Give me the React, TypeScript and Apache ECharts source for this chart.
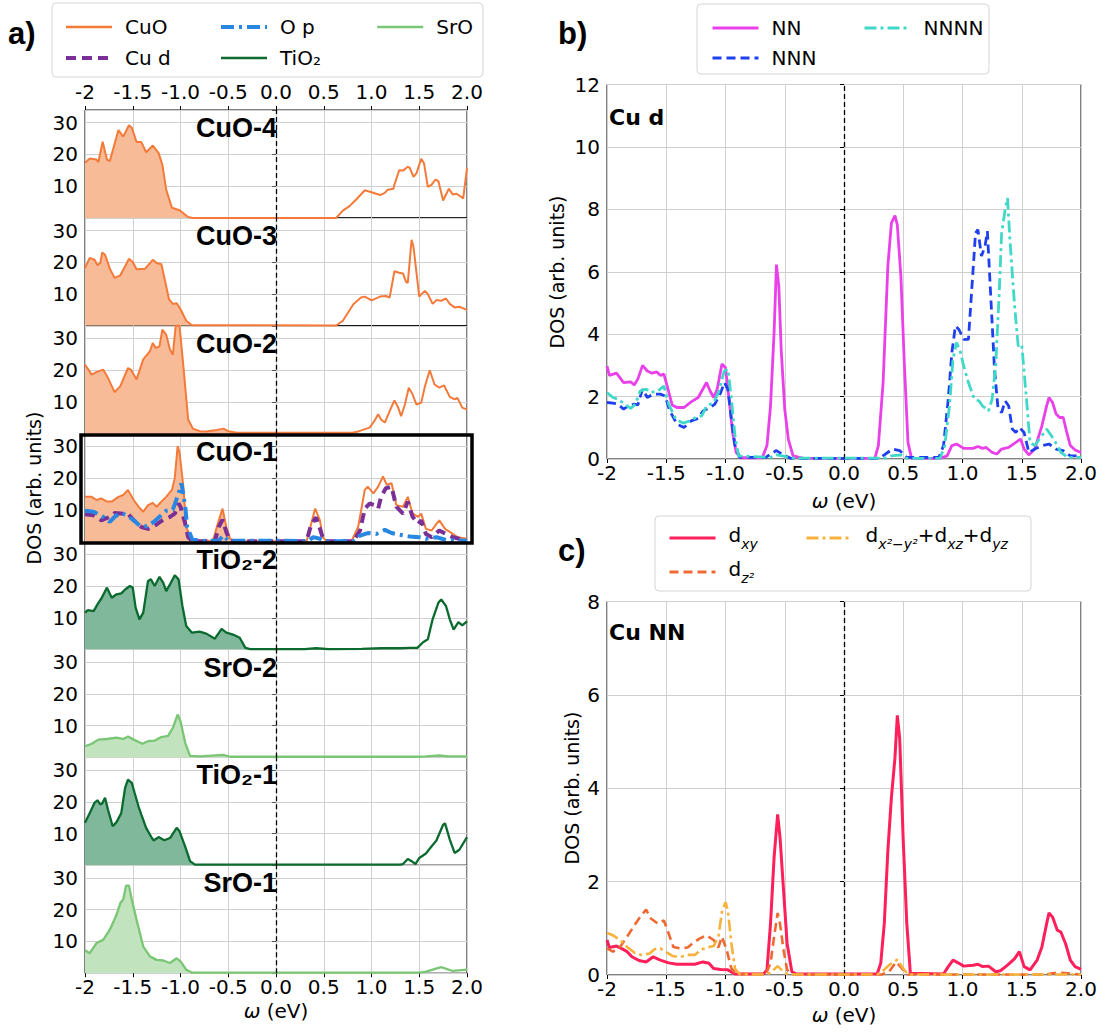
import React, { useEffect, useRef } from 'react';
import * as echarts from 'echarts';

type P = [number, number];

// ---------- panel a data (omega eV, DOS) ----------
const cuo4: P[] = [[-2,17.4],[-1.95,18.7],[-1.88,18.4],[-1.86,17.6],[-1.815,24],[-1.77,18.4],[-1.74,17.9],[-1.65,27.7],[-1.6,25.6],[-1.54,29.2],[-1.51,28.4],[-1.46,23.9],[-1.41,23.9],[-1.36,20.7],[-1.29,22.8],[-1.23,20.5],[-1.19,16.8],[-1.15,8.9],[-1.09,3.2],[-1.01,2.4],[-0.92,0.3],[-0.87,0],[0.63,0],[0.7,2.3],[0.77,3.7],[0.84,5.8],[0.93,8.7],[1.0,8.1],[1.09,7.2],[1.14,7.9],[1.17,8.9],[1.23,9.2],[1.24,10.5],[1.29,15],[1.33,14.9],[1.38,16.1],[1.4,15.8],[1.44,12.9],[1.47,14],[1.52,18.6],[1.55,17.2],[1.59,9.8],[1.63,10.5],[1.67,12.1],[1.7,11.6],[1.75,5.5],[1.81,9.2],[1.85,7.4],[1.89,7.6],[1.93,6.8],[1.96,6.1],[2.0,15.8]];
const cuo3: P[] = [[-2,18.2],[-1.95,21.4],[-1.9,20.8],[-1.87,19.1],[-1.84,19.8],[-1.82,23.1],[-1.79,22.4],[-1.74,18],[-1.69,15.1],[-1.63,15.9],[-1.58,18.75],[-1.54,21.1],[-1.5,20.1],[-1.46,17.8],[-1.37,18],[-1.35,18.75],[-1.29,20.8],[-1.25,19.8],[-1.2,19.4],[-1.16,13.9],[-1.12,8.3],[-1.08,6.9],[-1.04,7.1],[-1.0,5.2],[-0.94,1.6],[-0.88,0.2],[-0.8,0.2],[0.63,0.1],[0.7,1.6],[0.81,6.8],[0.89,8.9],[0.93,9.2],[1.0,8],[1.09,9.2],[1.15,9.4],[1.19,8.9],[1.24,17.2],[1.29,16.7],[1.33,16.5],[1.36,13.9],[1.38,13.5],[1.42,27.1],[1.44,24.8],[1.5,9.2],[1.52,9.9],[1.56,11],[1.59,10],[1.64,6.9],[1.68,8.1],[1.73,7.9],[1.78,8.6],[1.82,6.9],[1.87,5.8],[1.92,6],[2.0,5]];
const cuo2: P[] = [[-2,21.8],[-1.93,18.6],[-1.88,19.4],[-1.81,20.2],[-1.76,17.6],[-1.69,13.1],[-1.63,15],[-1.55,20.7],[-1.52,20.2],[-1.46,17.1],[-1.39,23.4],[-1.32,26],[-1.29,28.6],[-1.26,27],[-1.22,27.5],[-1.19,32.8],[-1.15,31.2],[-1.11,26.5],[-1.08,24.9],[-1.05,34],[-1.01,34],[-0.97,21.3],[-0.92,4.5],[-0.87,1.6],[-0.8,0.8],[-0.73,0.7],[-0.62,1.2],[-0.55,1.6],[-0.5,0.8],[-0.41,0.3],[0.8,0.3],[0.87,0.8],[0.98,1.9],[1.03,4],[1.07,6.1],[1.1,4.5],[1.14,3.5],[1.19,7.1],[1.24,10.5],[1.28,8.2],[1.31,5.5],[1.35,9.2],[1.39,14.5],[1.43,12.4],[1.47,9.2],[1.52,9.7],[1.56,15],[1.61,20],[1.66,15.5],[1.71,14.5],[1.76,15.2],[1.82,11.6],[1.87,10.8],[1.9,11.3],[1.95,8.2],[2.0,7.6]];
const cuo1: P[] = [[-2,14.1],[-1.93,14.1],[-1.88,13.1],[-1.83,13.6],[-1.77,12.6],[-1.72,12.6],[-1.65,14.1],[-1.6,14.7],[-1.55,16.3],[-1.49,13.1],[-1.44,11],[-1.39,9.4],[-1.34,11.5],[-1.29,12.2],[-1.25,11],[-1.2,12.6],[-1.15,14.1],[-1.09,16.3],[-1.06,20],[-1.03,30.1],[-1.01,28],[-0.97,17.3],[-0.94,4.6],[-0.88,0.3],[-0.66,0.3],[-0.61,5.6],[-0.56,10.4],[-0.52,4.6],[-0.48,0.9],[-0.44,0.1],[0.32,0.1],[0.36,4.6],[0.41,10.4],[0.46,6.7],[0.49,1.4],[0.53,0.1],[0.79,0.1],[0.86,4.6],[0.93,16.3],[0.96,17.3],[1.02,15.2],[1.07,17.3],[1.12,20.5],[1.16,17.9],[1.21,18.4],[1.26,11.5],[1.33,11],[1.38,14.1],[1.43,8.8],[1.49,7.8],[1.52,8.8],[1.57,4],[1.63,3.5],[1.68,5.6],[1.71,6.7],[1.77,4],[1.84,2.7],[1.9,1.4],[2.0,0.9]];
const cud1: P[] = [[-2,8.6],[-1.91,8.3],[-1.83,6.7],[-1.74,7.8],[-1.69,9],[-1.6,8.8],[-1.55,8.8],[-1.49,6.7],[-1.41,4.6],[-1.34,4],[-1.25,5.4],[-1.18,6.9],[-1.11,7.8],[-1.06,8.8],[-1.02,12],[-1.0,11],[-0.95,5.6],[-0.92,1.4],[-0.87,0.1],[-0.64,0.1],[-0.6,4.6],[-0.56,6.9],[-0.52,3],[-0.48,0.3],[-0.44,0.1],[0.32,0.1],[0.37,5.6],[0.42,7.6],[0.46,4],[0.5,0.3],[0.55,0.1],[0.81,0.1],[0.88,3.5],[0.93,10.4],[0.98,12],[1.03,11.5],[1.07,10.4],[1.1,14.1],[1.15,16.8],[1.21,17.3],[1.26,11],[1.33,8.8],[1.38,12.6],[1.43,7.8],[1.49,5.6],[1.52,6.7],[1.57,2.4],[1.63,1.4],[1.71,3.5],[1.78,2.4],[1.85,1.4],[2.0,0.3]];
const op1: P[] = [[-2,9.7],[-1.91,9.4],[-1.81,7.8],[-1.74,6.2],[-1.69,7.8],[-1.63,9],[-1.56,8.3],[-1.49,6.7],[-1.42,4.8],[-1.35,4.8],[-1.28,6.2],[-1.22,7.8],[-1.15,9.7],[-1.08,10.1],[-1.02,15.2],[-0.99,18.4],[-0.95,11],[-0.93,4.6],[-0.88,0.9],[-0.8,0.2],[-0.6,0.3],[-0.55,1.9],[-0.5,0.3],[0.34,0.2],[0.39,1.4],[0.46,0.9],[0.51,0.1],[0.81,0.1],[0.88,1.9],[0.96,2.7],[1.05,2.4],[1.14,3.7],[1.21,2.7],[1.29,2.2],[1.4,1.6],[1.5,1.4],[1.57,0.9],[1.68,1.4],[1.78,0.5],[2.0,0.3]];
const tio2b: P[] = [[-2,11.6],[-1.97,12.4],[-1.91,12.1],[-1.86,14.7],[-1.83,16],[-1.77,19.5],[-1.72,16.3],[-1.67,17.4],[-1.62,17.7],[-1.58,18.9],[-1.53,20],[-1.5,19.5],[-1.47,13.2],[-1.43,9.5],[-1.39,11.6],[-1.34,21.6],[-1.31,22.1],[-1.27,20],[-1.22,22.9],[-1.18,21],[-1.15,18.4],[-1.11,20.5],[-1.06,23.4],[-1.02,22.1],[-0.98,13.7],[-0.94,7.4],[-0.88,5.3],[-0.8,5.6],[-0.73,5],[-0.64,3.4],[-0.57,6.5],[-0.52,5.3],[-0.45,4.7],[-0.38,3.7],[-0.32,0.5],[-0.27,0.1],[0.3,0.1],[0.42,0.4],[0.55,0.1],[0.9,0.2],[1.1,0.4],[1.3,0.4],[1.4,0.5],[1.48,0.5],[1.54,2.3],[1.59,3.2],[1.64,9.5],[1.7,14.7],[1.73,15.8],[1.78,13.7],[1.82,9.5],[1.86,6.3],[1.91,8.6],[1.95,7.6],[2.0,8.9]];
const sro2: P[] = [[-2,3.5],[-1.93,4.3],[-1.86,5.6],[-1.77,5.8],[-1.67,6.2],[-1.6,5.8],[-1.55,6.6],[-1.49,5.6],[-1.4,4.3],[-1.34,5.1],[-1.27,5.3],[-1.2,6.4],[-1.13,6.8],[-1.08,9.3],[-1.03,13.5],[-1.0,11.4],[-0.95,4.5],[-0.9,0.5],[-0.8,0.3],[-0.55,0.8],[-0.48,0.2],[1.5,0.2],[1.57,0.3],[1.71,0.6],[1.8,0.3],[2.0,0.3]];
const tio2a: P[] = [[-2,13.4],[-1.95,16.5],[-1.9,19.7],[-1.87,20.5],[-1.84,19.2],[-1.82,19.5],[-1.79,21.3],[-1.76,17.6],[-1.71,12.3],[-1.67,13.6],[-1.62,16.5],[-1.58,24.4],[-1.55,27],[-1.51,26],[-1.48,22.8],[-1.44,18.6],[-1.41,16],[-1.36,11.8],[-1.3,8.6],[-1.28,7.8],[-1.23,8.9],[-1.17,7.9],[-1.11,8.6],[-1.04,11.8],[-1.01,10.7],[-0.95,5.8],[-0.9,1.3],[-0.85,0.2],[1.3,0.2],[1.33,0.4],[1.38,2],[1.42,1.3],[1.46,0.4],[1.5,2.3],[1.57,3.7],[1.63,6],[1.68,7.8],[1.75,12.8],[1.77,13.2],[1.82,8.1],[1.87,3.9],[1.92,4.9],[2.0,8.9]];
const sro1: P[] = [[-2,7.2],[-1.95,6.3],[-1.88,9.5],[-1.81,10.5],[-1.74,13.7],[-1.67,18.4],[-1.63,22.1],[-1.6,23.2],[-1.57,27.6],[-1.54,27.6],[-1.51,23.2],[-1.46,16.8],[-1.39,8.4],[-1.32,5.3],[-1.25,4.2],[-1.18,4],[-1.11,3.2],[-1.04,4.7],[-1.0,3.7],[-0.94,1.1],[-0.88,0.2],[1.5,0.2],[1.57,0.5],[1.73,1.9],[1.85,0.7],[2.0,1.1]];

// ---------- panel b data ----------
const nnB: P[] = [[-2,2.98],[-1.98,2.68],[-1.92,2.75],[-1.86,2.45],[-1.8,2.47],[-1.77,2.37],[-1.74,2.56],[-1.7,3.0],[-1.66,2.82],[-1.62,2.75],[-1.58,2.79],[-1.55,2.68],[-1.52,2.72],[-1.5,2.45],[-1.45,1.73],[-1.41,1.65],[-1.35,1.65],[-1.29,1.83],[-1.23,1.97],[-1.2,2.18],[-1.16,2.45],[-1.13,2.18],[-1.1,1.97],[-1.07,2.24],[-1.03,3.04],[-1.0,2.93],[-0.97,1.92],[-0.94,0.85],[-0.91,0.21],[-0.87,0.04],[-0.69,0.04],[-0.65,0.43],[-0.62,1.7],[-0.59,4.05],[-0.57,6.23],[-0.55,5.54],[-0.53,3.51],[-0.5,1.6],[-0.47,0.64],[-0.43,0.1],[-0.34,0.02],[0.26,0.02],[0.29,0.43],[0.33,2.45],[0.37,6.18],[0.4,7.56],[0.43,7.8],[0.45,7.5],[0.48,5.86],[0.51,2.98],[0.54,0.53],[0.57,0.02],[0.81,0.02],[0.87,0.1],[0.91,0.43],[0.95,0.48],[1.01,0.34],[1.09,0.34],[1.13,0.4],[1.17,0.34],[1.2,0.37],[1.25,0.21],[1.29,0.16],[1.33,0.32],[1.39,0.37],[1.45,0.53],[1.49,0.64],[1.52,0.32],[1.56,0.13],[1.61,0.32],[1.67,1.06],[1.71,1.7],[1.73,1.97],[1.76,1.81],[1.79,1.44],[1.82,1.33],[1.85,1.33],[1.88,0.85],[1.91,0.43],[1.95,0.29],[2.0,0.21]];
const nnnB: P[] = [[-2,1.81],[-1.95,1.79],[-1.91,1.76],[-1.86,1.6],[-1.82,1.7],[-1.77,1.76],[-1.74,1.73],[-1.7,2.24],[-1.66,1.97],[-1.61,2.08],[-1.55,2.08],[-1.51,2.02],[-1.47,1.54],[-1.41,1.12],[-1.35,1.01],[-1.29,1.22],[-1.23,1.3],[-1.19,1.54],[-1.13,1.65],[-1.09,1.76],[-1.04,2.13],[-1.01,2.45],[-0.98,2.24],[-0.95,1.28],[-0.92,0.43],[-0.88,0.05],[-0.66,0.05],[-0.62,0.16],[-0.57,0.27],[-0.51,0.13],[-0.45,0.02],[0.3,0.02],[0.35,0.16],[0.41,0.32],[0.47,0.27],[0.53,0.05],[0.8,0.05],[0.84,0.43],[0.88,1.92],[0.91,3.41],[0.94,4.26],[0.97,4.15],[1.01,3.83],[1.05,3.83],[1.08,5.54],[1.11,7.24],[1.13,7.35],[1.16,6.5],[1.19,6.82],[1.21,7.3],[1.24,5.1],[1.27,2.88],[1.3,1.6],[1.33,1.49],[1.36,1.86],[1.39,1.7],[1.42,0.96],[1.45,0.85],[1.48,1.01],[1.52,0.85],[1.56,0.21],[1.61,0.32],[1.67,0.43],[1.73,0.48],[1.79,0.32],[1.85,0.27],[1.91,0.1],[2.0,0.1]];
const nnnnB: P[] = [[-2,2.13],[-1.95,1.97],[-1.91,1.92],[-1.85,1.76],[-1.8,1.62],[-1.76,1.76],[-1.72,2.18],[-1.67,2.24],[-1.63,2.13],[-1.57,2.18],[-1.52,2.34],[-1.48,1.76],[-1.42,1.28],[-1.36,1.15],[-1.3,1.22],[-1.25,1.33],[-1.2,1.38],[-1.16,1.7],[-1.1,1.81],[-1.06,2.13],[-1.01,2.82],[-0.98,2.88],[-0.95,1.92],[-0.92,0.75],[-0.89,0.1],[-0.62,0.05],[-0.57,0.13],[-0.51,0.09],[-0.45,0.03],[0.35,0.03],[0.4,0.1],[0.48,0.13],[0.53,0.02],[0.81,0.02],[0.85,0.43],[0.89,1.7],[0.92,3.2],[0.95,3.73],[0.98,3.46],[1.01,2.98],[1.05,2.45],[1.1,1.92],[1.14,1.86],[1.17,1.7],[1.22,1.54],[1.25,1.92],[1.28,2.98],[1.31,5.32],[1.33,7.24],[1.36,7.99],[1.38,8.36],[1.4,7.03],[1.44,4.9],[1.47,3.62],[1.5,3.67],[1.54,1.92],[1.57,0.53],[1.61,0.43],[1.65,0.64],[1.71,0.96],[1.77,0.64],[1.83,0.21],[1.89,0.05],[2.0,0.05]];

// ---------- panel c data ----------
const dxyC: P[] = [[-2,0.75],[-1.98,0.59],[-1.92,0.62],[-1.88,0.57],[-1.83,0.5],[-1.79,0.39],[-1.73,0.31],[-1.67,0.28],[-1.61,0.39],[-1.55,0.32],[-1.48,0.26],[-1.41,0.23],[-1.33,0.23],[-1.26,0.23],[-1.19,0.28],[-1.14,0.25],[-1.1,0.14],[-1.04,0.12],[-0.98,0.11],[-0.92,0.02],[-0.68,0.02],[-0.65,0.11],[-0.62,1.1],[-0.59,2.52],[-0.56,3.44],[-0.54,2.95],[-0.51,1.81],[-0.48,0.67],[-0.44,0.07],[-0.4,0.02],[0.28,0.02],[0.31,0.25],[0.34,1.1],[0.37,2.66],[0.4,3.8],[0.43,4.65],[0.45,5.56],[0.47,5.07],[0.5,2.87],[0.53,1.1],[0.56,0.04],[0.84,0.02],[0.88,0.18],[0.92,0.32],[0.97,0.25],[1.01,0.19],[1.09,0.21],[1.13,0.23],[1.17,0.18],[1.22,0.19],[1.28,0.07],[1.32,0.09],[1.38,0.21],[1.44,0.35],[1.48,0.5],[1.52,0.18],[1.57,0.11],[1.63,0.32],[1.67,0.6],[1.71,1.1],[1.73,1.33],[1.76,1.24],[1.8,0.96],[1.83,0.92],[1.87,0.67],[1.91,0.32],[1.95,0.18],[2.0,0.12]];
const dz2C: P[] = [[-2,0.57],[-1.95,0.5],[-1.89,0.6],[-1.83,0.82],[-1.77,1.06],[-1.71,1.28],[-1.67,1.4],[-1.63,1.21],[-1.57,1.1],[-1.52,1.17],[-1.48,0.89],[-1.44,0.6],[-1.38,0.57],[-1.32,0.59],[-1.26,0.71],[-1.22,0.78],[-1.16,0.85],[-1.1,0.75],[-1.06,0.59],[-1.03,0.82],[-0.99,0.53],[-0.95,0.14],[-0.91,0.02],[-0.66,0.02],[-0.62,0.25],[-0.59,0.82],[-0.56,1.33],[-0.54,1.1],[-0.51,0.53],[-0.48,0.11],[-0.44,0.01],[0.32,0.01],[0.38,0.07],[0.44,0.28],[0.5,0.11],[0.54,0.01],[1.7,0.01],[1.77,0.04],[1.83,0.05],[2.0,0.01]];
const dx2C: P[] = [[-2,0.9],[-1.95,0.85],[-1.89,0.75],[-1.83,0.6],[-1.77,0.48],[-1.71,0.43],[-1.64,0.46],[-1.6,0.55],[-1.55,0.57],[-1.51,0.5],[-1.44,0.4],[-1.38,0.39],[-1.32,0.43],[-1.26,0.43],[-1.2,0.55],[-1.14,0.6],[-1.1,0.62],[-1.06,0.82],[-1.03,1.35],[-1.0,1.56],[-0.98,1.38],[-0.95,0.67],[-0.92,0.14],[-0.88,0.01],[-0.66,0.01],[-0.62,0.05],[-0.56,0.19],[-0.51,0.07],[-0.47,0.01],[0.28,0.01],[0.32,0.07],[0.38,0.21],[0.45,0.33],[0.5,0.14],[0.54,0.01],[2.0,0.01]];

const rowLabels = ['CuO-4', 'CuO-3', 'CuO-2', 'CuO-1', 'TiO₂-2', 'SrO-2', 'TiO₂-1', 'SrO-1'];
const yTicksA = [10, 20, 30];

const C = {
  cuo: '#f47a3a', cuoFill: '#f8bb98',
  cud: '#7a3096', op: '#2787e3',
  tio: '#0b6a2e', tioFill: '#7fb89b',
  sro: '#79c675', sroFill: '#c1e3bd',
  nn: '#e940e9', nnn: '#1f3ff0', nnnn: '#40d8c8',
  dxy: '#ff1f5a', dz2: '#ef6a32', dx2: '#f7b23b',
};

const FONT = 'DejaVu Sans';
const ROW_TOP = 110;
const ROW_H = 107.9;

const xFmt = (v: number) => (Math.abs(v + 2) < 1e-9 ? '-2' : v.toFixed(1));

function buildOption() {
  const grids: any[] = [];
  const xAxes: any[] = [];
  const yAxes: any[] = [];
  const series: any[] = [];

  const zeroLine = {
    silent: true,
    symbol: 'none',
    label: { show: false },
    lineStyle: { color: '#000', width: 1.3, type: [5, 3] },
    data: [{ xAxis: 0 }],
  };

  const xAxisBase = (gi: number, showLabel: boolean) => ({
    type: 'value', gridIndex: gi, min: -2, max: 2, interval: 0.5,
    axisLine: { show: false },
    axisTick: { show: showLabel, length: 4, lineStyle: { color: '#000' } },
    axisLabel: { show: showLabel, formatter: xFmt, fontSize: 20, fontFamily: FONT, color: '#000', margin: 4, showMinLabel: true, showMaxLabel: true },
    splitLine: { show: true, lineStyle: { color: '#d0d0d0', width: 1 } },
  });

  for (let i = 0; i < 8; i++) {
    grids.push({ left: 85, top: ROW_TOP + i * ROW_H, width: 382, height: ROW_H, show: true, borderColor: '#000', borderWidth: 1, backgroundColor: 'transparent' });
    xAxes.push(xAxisBase(i, i === 7));
    yAxes.push({
      type: 'value', gridIndex: i, min: 0, max: 34, interval: 10,
      axisLine: { show: false },
      axisTick: { show: true, length: 4, lineStyle: { color: '#555' } },
      axisLabel: { fontSize: 20, fontFamily: FONT, color: '#000', margin: 7, formatter: (v: number) => (yTicksA.includes(v) ? String(v) : '') },
      splitLine: { show: true, lineStyle: { color: '#d0d0d0', width: 1 } },
    });
  }
  grids.push({ left: 607, top: 84.5, width: 474, height: 374.5, show: true, borderColor: '#000', borderWidth: 1, backgroundColor: 'transparent' });
  grids.push({ left: 607, top: 601.5, width: 474, height: 373.5, show: true, borderColor: '#000', borderWidth: 1, backgroundColor: 'transparent' });
  xAxes.push(xAxisBase(8, true));
  xAxes.push(xAxisBase(9, true));
  [8, 9].forEach((gi) => {
    yAxes.push({
      type: 'value', gridIndex: gi, min: 0, max: gi === 8 ? 12 : 8, interval: 2,
      axisLine: { show: false },
      axisTick: { show: true, length: 4, lineStyle: { color: '#000' } },
      axisLabel: { fontSize: 20, fontFamily: FONT, color: '#000', margin: 7 },
      splitLine: { show: true, lineStyle: { color: '#d0d0d0', width: 1 } },
    });
  });
  // top tick labels of panel a
  xAxes.push({
    type: 'value', gridIndex: 0, position: 'top', min: -2, max: 2, interval: 0.5,
    axisLine: { show: false },
    axisTick: { show: true, length: 4, lineStyle: { color: '#000' } },
    axisLabel: { formatter: xFmt, fontSize: 20, fontFamily: FONT, color: '#000', margin: 8, showMinLabel: true, showMaxLabel: true },
    splitLine: { show: false },
  });

  const line = (name: string, data: P[], gi: number, color: string, width: number, type: any, z = 3, mark = false) => ({
    name, type: 'line', xAxisIndex: gi, yAxisIndex: gi, data, symbol: 'none', smooth: false, clip: false,
    lineStyle: { color, width, type }, itemStyle: { color }, z,
    ...(mark ? { markLine: zeroLine } : {}),
  });
  const fill = (data: P[], gi: number, color: string) => ({
    name: 'fill' + gi, type: 'line', xAxisIndex: gi, yAxisIndex: gi, silent: true,
    data: data.filter((p) => p[0] <= 0), symbol: 'none',
    lineStyle: { width: 0, color }, itemStyle: { color }, areaStyle: { color, opacity: 1 }, z: 1,
  });

  const rows: { data: P[]; name: string; color: string; fc: string; w: number }[] = [
    { data: cuo4, name: 'CuO', color: C.cuo, fc: C.cuoFill, w: 2 },
    { data: cuo3, name: 'CuO', color: C.cuo, fc: C.cuoFill, w: 2 },
    { data: cuo2, name: 'CuO', color: C.cuo, fc: C.cuoFill, w: 2 },
    { data: cuo1, name: 'CuO', color: C.cuo, fc: C.cuoFill, w: 2 },
    { data: tio2b, name: 'TiO₂', color: C.tio, fc: C.tioFill, w: 2.3 },
    { data: sro2, name: 'SrO', color: C.sro, fc: C.sroFill, w: 2.3 },
    { data: tio2a, name: 'TiO₂', color: C.tio, fc: C.tioFill, w: 2.3 },
    { data: sro1, name: 'SrO', color: C.sro, fc: C.sroFill, w: 2.3 },
  ];
  rows.forEach((r, i) => {
    series.push(fill(r.data, i, r.fc));
    series.push(line(r.name, r.data, i, r.color, r.w, 'solid', 3, true));
  });
  series.push(line('Cu d', cud1, 3, C.cud, 4, [10, 6], 4));
  series.push(line('O p', op1, 3, C.op, 4, [13, 5, 3, 5], 5));

  series.push(line('NN', nnB, 8, C.nn, 2.8, 'solid', 3, true));
  series.push(line('NNN', nnnB, 8, C.nnn, 2.8, [9, 5], 4));
  series.push(line('NNNN', nnnnB, 8, C.nnnn, 2.8, [12, 4, 3, 4], 5));

  series.push(line('d_xy', dxyC, 9, C.dxy, 3, 'solid', 3, true));
  series.push(line('d_z2', dz2C, 9, C.dz2, 2.6, [9, 5], 4));
  series.push(line('d_x2', dx2C, 9, C.dx2, 2.6, [12, 4, 3, 4], 5));

  const legTxt = { fontFamily: FONT, fontSize: 20, color: '#000', padding: [0, 0, 0, 8] };
  const legBase = { orient: 'vertical', itemWidth: 46, itemHeight: 12, selectedMode: false, textStyle: legTxt, itemStyle: { opacity: 0 } };
  const item = (name: string, width: number) => ({ name, lineStyle: { width } });
  const richC = {
    n: { fontFamily: FONT, fontSize: 20, color: '#000', lineHeight: 26, verticalAlign: 'top' },
    s: { fontFamily: FONT, fontSize: 14, fontStyle: 'italic', color: '#000', lineHeight: 14, verticalAlign: 'bottom' },
  };
  const legendNames: Record<string, string> = {
    d_xy: '{n|d}{s|xy}',
    d_z2: '{n|d}{s|z²}',
    d_x2: '{n|d}{s|x²−y²}{n|+d}{s|xz}{n|+d}{s|yz}',
  };
  const legends = [
    { ...legBase, left: 59, top: 12, itemGap: 11, data: [item('CuO', 2.5), item('Cu d', 4)] },
    { ...legBase, left: 214, top: 12, itemGap: 11, data: [item('O p', 4), item('TiO₂', 2.5)] },
    { ...legBase, left: 371, top: 12, itemGap: 11, data: [item('SrO', 2.5)] },
    { ...legBase, left: 706, top: 13, itemGap: 10, data: [item('NN', 3), item('NNN', 3)] },
    { ...legBase, left: 858, top: 13, itemGap: 10, data: [item('NNNN', 3)] },
    { ...legBase, left: 663, top: 520, itemGap: 8, data: [item('d_xy', 3), item('d_z2', 3)], formatter: (n: string) => legendNames[n], textStyle: { ...legTxt, rich: richC } },
    { ...legBase, left: 800, top: 520, itemGap: 8, data: [item('d_x2', 3)], formatter: (n: string) => legendNames[n], textStyle: { ...legTxt, rich: richC } },
  ];

  const boxStyle = { fill: 'rgba(255,255,255,0.85)', stroke: '#d6d6d6', lineWidth: 1 };
  const graphic: any[] = [
    { type: 'rect', shape: { x: 52, y: 3, width: 431, height: 74, r: 4 }, style: boxStyle, z: 0 },
    { type: 'rect', shape: { x: 697, y: 4, width: 292, height: 70, r: 4 }, style: boxStyle, z: 0 },
    { type: 'rect', shape: { x: 655, y: 516, width: 376, height: 75, r: 4 }, style: boxStyle, z: 0 },
    { type: 'rect', shape: { x: 81, y: 435, width: 391, height: 108 }, style: { fill: 'none', stroke: '#000', lineWidth: 3.5 }, z: 20, silent: true },
    { type: 'text', x: 8, y: 33, style: { text: 'a)', fontFamily: 'Liberation Sans', fontWeight: 'bold', fontSize: 31, fill: '#000', textVerticalAlign: 'middle' } },
    { type: 'text', x: 558, y: 33, style: { text: 'b)', fontFamily: 'Liberation Sans', fontWeight: 'bold', fontSize: 31, fill: '#000', textVerticalAlign: 'middle' } },
    { type: 'text', x: 558, y: 550, style: { text: 'c)', fontFamily: 'Liberation Sans', fontWeight: 'bold', fontSize: 31, fill: '#000', textVerticalAlign: 'middle' } },
    { type: 'text', x: 609, y: 117, style: { text: 'Cu d', fontFamily: FONT, fontWeight: 'bold', fontSize: 22, fill: '#000', textVerticalAlign: 'middle' } },
    { type: 'text', x: 609, y: 632, style: { text: 'Cu NN', fontFamily: FONT, fontWeight: 'bold', fontSize: 22, fill: '#000', textVerticalAlign: 'middle' } },
    { type: 'text', x: 34, y: 488, rotation: Math.PI / 2, style: { text: 'DOS (arb. units)', fontFamily: FONT, fontSize: 19, fill: '#000', textAlign: 'center', textVerticalAlign: 'middle' } },
    { type: 'text', x: 557, y: 272, rotation: Math.PI / 2, style: { text: 'DOS (arb. units)', fontFamily: FONT, fontSize: 19, fill: '#000', textAlign: 'center', textVerticalAlign: 'middle' } },
    { type: 'text', x: 572, y: 788, rotation: Math.PI / 2, style: { text: 'DOS (arb. units)', fontFamily: FONT, fontSize: 19, fill: '#000', textAlign: 'center', textVerticalAlign: 'middle' } },
  ];
  const omega = (x: number, y: number) => ({
    type: 'text', x, y,
    style: { text: '{i|ω} (eV)', fontFamily: FONT, fontSize: 20, fill: '#000', textAlign: 'center', textVerticalAlign: 'middle', rich: { i: { fontFamily: FONT, fontSize: 20, fontStyle: 'italic', fill: '#000' } } },
  });
  graphic.push(omega(276, 1011), omega(844, 501), omega(844, 1015));
  rowLabels.forEach((t, i) => {
    graphic.push({ type: 'text', x: 277, y: ROW_TOP + i * ROW_H + 18, z: 15, style: { text: t, fontFamily: 'Liberation Sans', fontWeight: 'bold', fontSize: 27, fill: '#000', textAlign: 'right', textVerticalAlign: 'middle' } });
  });

  return {
    animation: false,
    backgroundColor: '#fff',
    grid: grids,
    xAxis: xAxes,
    yAxis: yAxes,
    legend: legends,
    series,
    graphic,
  };
}

export default function App() {
  const ref = useRef<HTMLDivElement>(null);
  useEffect(() => {
    const chart = echarts.init(ref.current as HTMLDivElement, null, { renderer: 'svg' });
    chart.setOption(buildOption() as any);
    return () => chart.dispose();
  }, []);
  return <div ref={ref} style={{ position: 'absolute', left: 0, top: 0, width: 1107, height: 1032, background: '#fff' }} />;
}
